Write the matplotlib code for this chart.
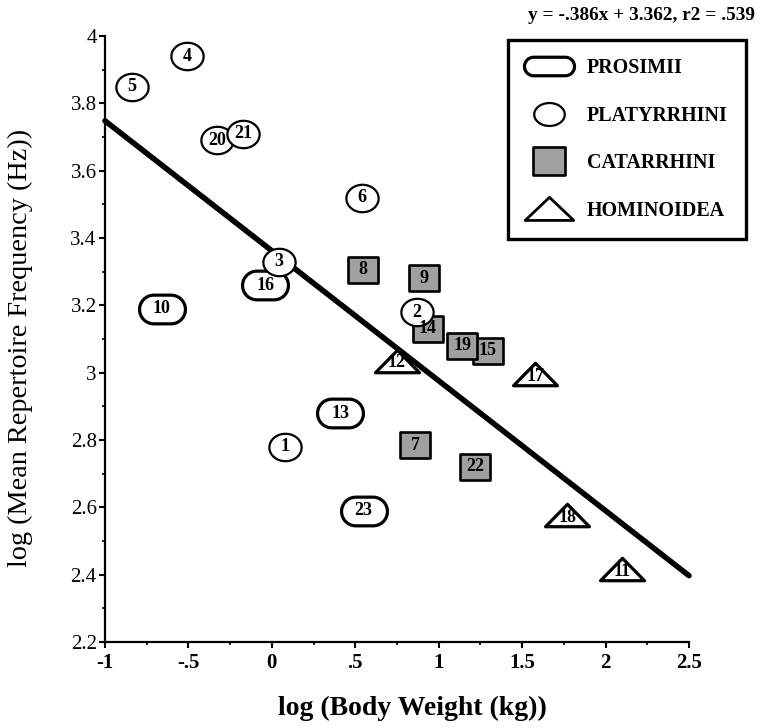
import numpy as np
import matplotlib
matplotlib.use('Agg')
import matplotlib.pyplot as plt
from matplotlib.path import Path
from matplotlib.lines import Line2D

plt.rcParams['font.family'] = ['Liberation Serif', 'DejaVu Serif']

# 데이터
pro_id = ['10', '16', '13', '23']
pro_x = [-0.66, -0.04, 0.41, 0.55]
pro_y = [3.19, 3.26, 2.88, 2.59]

pla_id = ['5', '4', '20', '21', '6', '3', '1', '2']
pla_x = [-0.84, -0.51, -0.33, -0.17, 0.54, 0.04, 0.08, 0.87]
pla_y = [3.85, 3.94, 3.69, 3.71, 3.52, 3.33, 2.78, 3.18]

cat_id = ['8', '9', '14', '15', '19', '7', '22']
cat_x = [0.545, 0.91, 0.935, 1.295, 1.14, 0.86, 1.22]
cat_y = [3.305, 3.28, 3.13, 3.065, 3.08, 2.785, 2.72]

hom_id = ['12', '17', '18', '11']
hom_x = [0.75, 1.58, 1.77, 2.10]
hom_y = [3.03, 2.99, 2.57, 2.41]

slope, intercept = -0.386, 3.362
line_x = np.array([-1.0, 2.5])

x_ticks = [-1, -0.5, 0, 0.5, 1, 1.5, 2, 2.5]
x_tick_labels = ['-1', '-.5', '0', '.5', '1', '1.5', '2', '2.5']
y_ticks = [2.2, 2.4, 2.6, 2.8, 3.0, 3.2, 3.4, 3.6, 3.8, 4.0]
y_tick_labels = ['2.2', '2.4', '2.6', '2.8', '3', '3.2', '3.4', '3.6', '3.8', '4']

groups = ['PROSIMII', 'PLATYRRHINI', 'CATARRHINI', 'HOMINOIDEA']


# 마커 모양
def stadium(h=0.625):
    r = h
    t1 = np.linspace(-np.pi / 2, np.pi / 2, 30)
    t2 = np.linspace(np.pi / 2, 3 * np.pi / 2, 30)
    right = np.c_[(1 - r) + r * np.cos(t1), r * np.sin(t1)]
    left = np.c_[-(1 - r) + r * np.cos(t2), r * np.sin(t2)]
    v = np.vstack([right, left, right[:1]])
    return Path(v, closed=True)


def ellipse(h=0.85):
    t = np.linspace(0, 2 * np.pi, 60)
    return Path(np.c_[np.cos(t), h * np.sin(t)], closed=True)


rect_m = Path([(-1, -0.875), (1, -0.875), (1, 0.875), (-1, 0.875), (-1, -0.875)], closed=True)
tri_m = Path([(-1, -0.42), (1, -0.42), (0, 0.6), (-1, -0.42)], closed=True)
stad_m = stadium()
ell_m = ellipse()

fig = plt.figure(figsize=(7.69, 7.27), dpi=100)
ax = fig.add_axes([105 / 769, 1 - 642 / 727, 584 / 769, 606 / 727])

# 회귀선
ax.plot(line_x, slope * line_x + intercept, color='black', lw=4.0,
        solid_capstyle='round', zorder=2, clip_on=False)

# 점
ax.scatter(pro_x, pro_y, marker=stad_m, s=1090, facecolor='white',
           edgecolor='black', linewidth=2.3, zorder=3, clip_on=False)
ax.scatter(cat_x, cat_y, marker=rect_m, s=470, facecolor='#a0a0a0',
           edgecolor='black', linewidth=1.9, zorder=4, clip_on=False)
ax.scatter(pla_x, pla_y, marker=ell_m, s=540, facecolor='white',
           edgecolor='black', linewidth=1.6, zorder=5, clip_on=False)
ax.scatter(hom_x, hom_y, marker=tri_m, s=1000, facecolor='white',
           edgecolor='black', linewidth=2.3, zorder=6, clip_on=False)

for ids, xs, ys in [(pro_id, pro_x, pro_y), (pla_id, pla_x, pla_y),
                    (cat_id, cat_x, cat_y), (hom_id, hom_x, hom_y)]:
    for i, x, y in zip(ids, xs, ys):
        ax.text(x, y, i, ha='center', va='center', fontsize=13,
                fontweight='bold', zorder=10)

# 축
ax.set_xlim(-1, 2.5)
ax.set_ylim(2.2, 4.0)
ax.set_xticks(x_ticks)
ax.set_xticklabels(x_tick_labels, fontsize=15, fontweight='bold')
ax.set_yticks(y_ticks)
ax.set_yticklabels(y_tick_labels, fontsize=15)
ax.set_xticks(np.arange(-1, 2.51, 0.25), minor=True)
ax.set_yticks(np.arange(2.2, 4.01, 0.1), minor=True)
ax.tick_params(which='major', direction='out', length=4, width=1.5, pad=2)
ax.tick_params(axis='x', which='major', pad=4)
ax.tick_params(which='minor', direction='out', length=2, width=1.2)
for s in ['top', 'right']:
    ax.spines[s].set_visible(False)
for s in ['left', 'bottom']:
    ax.spines[s].set_linewidth(1.6)

ax.set_xlabel('log (Body Weight (kg))', fontsize=20, fontweight='bold', va='center')
ax.xaxis.set_label_coords(0.527, -0.109)
ax.set_ylabel('log (Mean Repertoire Frequency (Hz))', fontsize=20.3)
ax.yaxis.set_label_coords(-0.124, 0.485)

fig.text(755 / 769, 1 - 15 / 727, 'y = -.386x + 3.362, r2 = .539',
         ha='right', va='center', fontsize=13.9, fontweight='bold')

# 범례
handles = [
    Line2D([], [], ls='none', marker=stadium(0.37), markersize=36, markerfacecolor='white',
           markeredgecolor='black', markeredgewidth=2.3),
    Line2D([], [], ls='none', marker=ellipse(0.75), markersize=22, markerfacecolor='white',
           markeredgecolor='black', markeredgewidth=1.6),
    Line2D([], [], ls='none', marker=rect_m, markersize=23, markerfacecolor='#a0a0a0',
           markeredgecolor='black', markeredgewidth=1.9),
    Line2D([], [], ls='none', marker=Path([(-1, -0.45), (1, -0.45), (0, 0.5), (-1, -0.45)], closed=True),
           markersize=35, markerfacecolor='white', markeredgecolor='black', markeredgewidth=2.0),
]
leg = fig.legend(handles, groups, loc='upper left',
                 bbox_to_anchor=(508 / 769, 1 - 40 / 727), bbox_transform=fig.transFigure,
                 borderaxespad=0, borderpad=0.9, labelspacing=1.38, handlelength=2.3,
                 handletextpad=0.75, fancybox=False, framealpha=1,
                 prop={'size': 14.4, 'weight': 'bold'})
leg.get_frame().set_edgecolor('black')
leg.get_frame().set_linewidth(2.4)

fig.savefig('out.png', dpi=100)
